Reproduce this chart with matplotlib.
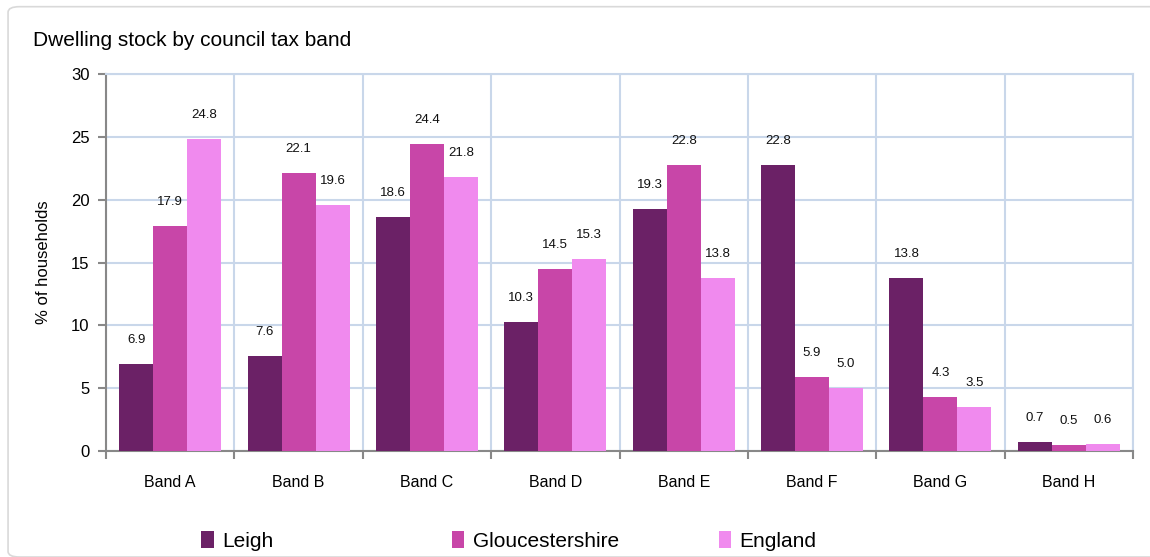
import numpy as np
import matplotlib.pyplot as plt
from matplotlib.patches import FancyBboxPatch

bands = ['Band A', 'Band B', 'Band C', 'Band D', 'Band E', 'Band F', 'Band G', 'Band H']
leigh = [6.9, 7.6, 18.6, 10.3, 19.3, 22.8, 13.8, 0.7]
gloucestershire = [17.9, 22.1, 24.4, 14.5, 22.8, 5.9, 4.3, 0.5]
england = [24.8, 19.6, 21.8, 15.3, 13.8, 5.0, 3.5, 0.6]

series = [('Leigh', leigh, '#6b2166'),
          ('Gloucestershire', gloucestershire, '#c846a8'),
          ('England', england, '#f08aee')]
legend_x = [0.175, 0.393, 0.625]

plt.rcParams['font.family'] = ['Liberation Sans', 'DejaVu Sans']

fig = plt.figure(figsize=(11.5, 5.57), dpi=100)
# light rounded frame round the whole chart
fig.patches.append(FancyBboxPatch((0.007, 0.0), 1.2, 0.988, transform=fig.transFigure,
                                  boxstyle='round,pad=0,rounding_size=0.01',
                                  facecolor='none', edgecolor='#d9d9d9', lw=1.2,
                                  zorder=-5))
ax = fig.add_axes([0.0922, 0.190, 0.893, 0.677])

x = np.arange(len(bands))
w = 0.265
handles = []
for i, (name, vals, col) in enumerate(series):
    pos = x + (i - 1) * w
    bars = ax.bar(pos, vals, w, color=col, label=name, zorder=3)
    handles.append(bars)
    for p, v in zip(pos, vals):
        ax.annotate(f'{v:.1f}', (p, v), xytext=(0, 13), textcoords='offset points',
                    ha='center', va='bottom', fontsize=9.5, color='#111111')

ax.set_xlim(-0.5, len(bands) - 0.5)
ax.set_ylim(0, 30)
ax.set_yticks(range(0, 31, 5))
ax.set_xticks(x)
ax.set_xticklabels(bands, fontsize=11.5)
ax.set_xticks(np.arange(len(bands) + 1) - 0.5, minor=True)
ax.tick_params(axis='x', which='major', length=0, pad=17)
ax.tick_params(axis='x', which='minor', length=6, color='#888888', width=1.5)
ax.tick_params(axis='y', labelsize=12, length=6, color='#888888', width=1.5, pad=6)

ax.grid(True, axis='y', color='#c9d7ea', lw=1.5, zorder=0)
ax.grid(True, axis='x', which='minor', color='#c9d7ea', lw=1.5, zorder=0)
ax.grid(False, axis='x', which='major')
for s in ['top', 'right']:
    ax.spines[s].set_color('#c9d7ea')
    ax.spines[s].set_linewidth(1.5)
for s in ['left', 'bottom']:
    ax.spines[s].set_color('#888888')
    ax.spines[s].set_linewidth(1.5)

ax.set_ylabel('% of households', fontsize=12, labelpad=14)
fig.text(0.029, 0.928, 'Dwelling stock by council tax band', fontsize=15, va='center')

# one legend entry per series, spread along the bottom
for h, (name, _, _), lx in zip(handles, series, legend_x):
    fig.legend([h], [name], loc='center left', bbox_to_anchor=(lx, 0.029),
               frameon=False, fontsize=15, handlelength=0.6, handleheight=0.9,
               handletextpad=0.4, borderaxespad=0, borderpad=0)

fig.savefig('out.png', dpi=100)
